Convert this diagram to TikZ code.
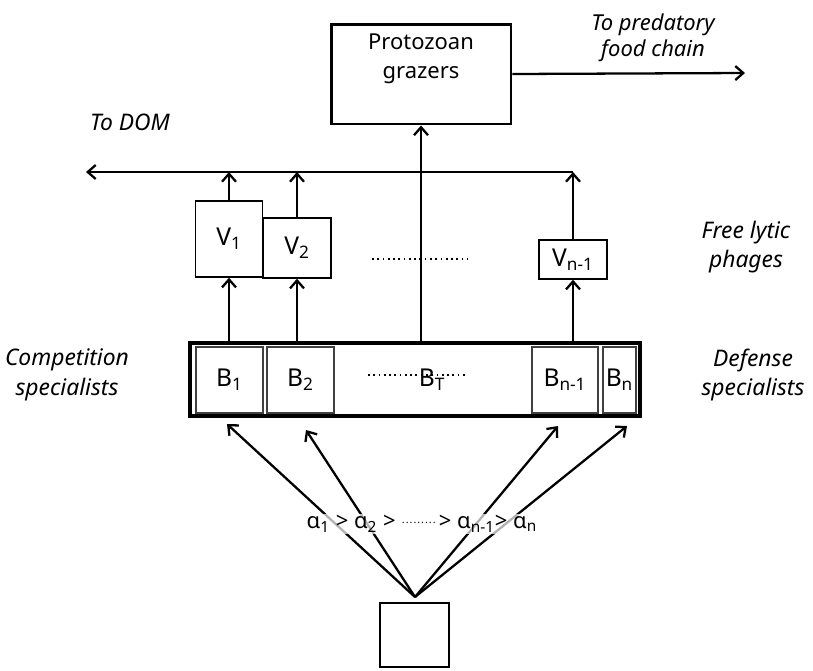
\documentclass[tikz,border=0pt]{standalone}
\usepackage{fontspec}
\setmainfont{Noto Sans}
\usetikzlibrary{calc,arrows.meta}
\tikzset{
	thinbox/.style={draw, line width=0.8pt, inner sep=0pt},
	grp/.style={draw=black!75, line width=0.7pt, inner sep=0pt},
	flow/.style={-{Straight Barb[length=1.6mm,width=2.8mm]}, line width=1.3pt},
	lbl/.style={font=\fontsize{14}{16}\selectfont},
	note/.style={align=center, font=\itshape\fontsize{13}{17}\selectfont},
}
\newcommand{\sub}[1]{\textsubscript{#1}}
\newcommand{\dotrule}{\raisebox{0.45ex}{\leaders\hbox to 2.2pt{\hss\fontsize{6}{6}\selectfont.\hss}\hskip 0.75cm}}

\begin{document}
\begin{tikzpicture}[x=0.02cm, y=-0.02cm]
			%%%%% START %%%%%
			\useasboundingbox (0, 0) rectangle (813, 670);
			
			\node[draw, line width=1.7pt, minimum width=3.6cm, minimum height=2cm] (graz) at (421, 74) {};
			\node[align=center, font=\fontsize{12.5}{16.5}\selectfont] (grazt) at (421, 59) {Protozoan\\grazers};
			\coordinate (pred) at (745, 73);
			\draw[flow] (graz.east) -- (pred);
			\node[note, font=\itshape\fontsize{12.5}{14.5}\selectfont] (predt) at (653, 38) {To predatory\\food chain};
			
			\node[note] (domt) at (130, 122) {To DOM};
			\coordinate (dom) at (86, 172);
			
			\node[thinbox, lbl, minimum width=1.34cm, minimum height=1.52cm] (v1) at (229, 239) {V\sub{1}};
			\node[thinbox, lbl, minimum width=1.36cm, minimum height=1.2cm] (v2) at (297, 248) {V\sub{2}};
			\node[thinbox, lbl, minimum width=1.36cm, minimum height=0.78cm] (vn1) at (573, 259.5) {V\sub{n-1}};
			\coordinate (vd1) at (372, 259);
			\coordinate (vd2) at (467, 259);
			\draw[dotted, line width=1pt] (vd1) -- (vd2);
			
			\node[note] (phg) at (746, 247) {Free lytic\\phages};
			
			\node[draw, line width=2.4pt, minimum width=9cm, minimum height=1.46cm] (bt) at (415, 379.5) {};
			\node[grp, lbl, minimum width=1.34cm, minimum height=1.32cm] (b1) at (229.5, 380) {B\sub{1}};
			\node[grp, lbl, minimum width=1.34cm, minimum height=1.32cm] (b2) at (300.5, 380) {B\sub{2}};
			\node[grp, lbl, minimum width=1.32cm, minimum height=1.32cm] (bn1) at (565, 380) {B\sub{n-1}};
			\node[grp, lbl, minimum width=0.66cm, minimum height=1.32cm] (bn) at (619.5, 380) {B\sub{n}};
			\coordinate (bd1) at (368, 375);
			\coordinate (bd2) at (465, 375);
			\draw[dotted, line width=1pt] (bd1) -- (bd2);
			\node[lbl] (btt) at (432, 380) {B\sub{T}};
			
			\node[note] (comp) at (67, 375) {Competition\\specialists};
			\node[note] (defs) at (753, 375) {Defense\\specialists};
			
			\draw[flow] (v1.south |- bt.north) -- (v1.south);
			\draw[flow] (v2.south |- bt.north) -- (v2.south);
			\draw[flow] (vn1.south |- bt.north) -- (vn1.south);
			\draw[flow] (graz.south |- bt.north) -- (graz.south);
			
			\draw[flow] (v1.north) -- (v1.north |- dom);
			\draw[flow] (v2.north) -- (v2.north |- dom);
			\draw[flow] (vn1.north) -- (vn1.north |- dom);
			\draw[flow] (vn1.north |- dom) -- (dom);
			
			\node[thinbox, minimum width=1.38cm, minimum height=1.28cm] (src) at (414.5, 635) {};
			\coordinate (fan) at (415, 597);
			\coordinate (t1) at (227, 424);
			\coordinate (t2) at (306, 430);
			\coordinate (t3) at (558, 426);
			\coordinate (t4) at (627, 426);
			\foreach \t in {t1, t2, t3, t4}
				\draw[flow] (fan) -- (\t);
			
			\node[fill=white, fill opacity=0.7, text opacity=1, inner sep=1pt, font=\fontsize{12.5}{14}\selectfont] (alph) at (422, 524)
				{α\sub{1} > α\sub{2} > \dotrule> α\sub{n-1}> α\sub{n}};
			%%%%% END %%%%%
\end{tikzpicture}
\end{document}
